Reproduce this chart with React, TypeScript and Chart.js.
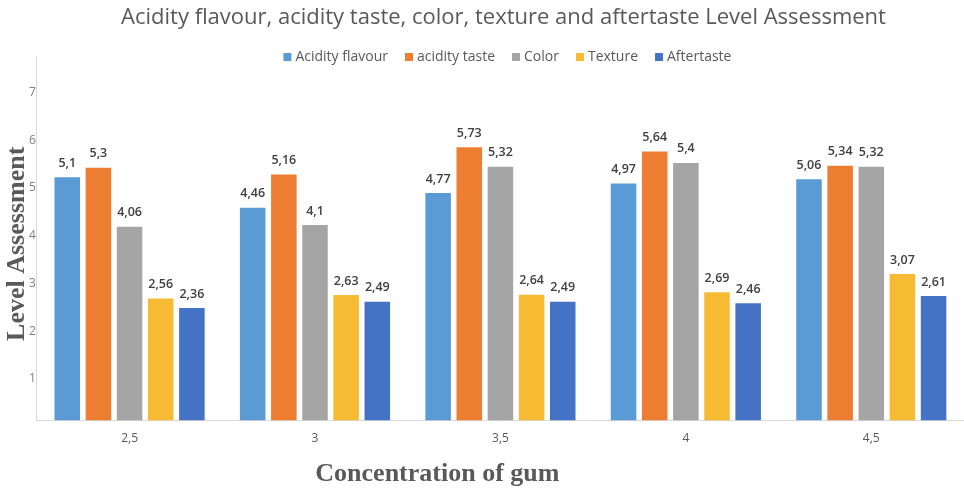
import React, { useEffect, useRef } from "react";
import { Chart, registerables } from "chart.js";

Chart.register(...registerables);

// Gum concentrations on the category axis
const categories = ["2,5", "3", "3,5", "4", "4,5"];

// Sensory scores per attribute
const seriesNames = ["Acidity flavour", "acidity taste", "Color", "Texture", "Aftertaste"];
const acidityFlavour = [5.1, 4.46, 4.77, 4.97, 5.06];
const acidityTaste = [5.3, 5.16, 5.73, 5.64, 5.34];
const colorScore = [4.06, 4.1, 5.32, 5.4, 5.32];
const texture = [2.56, 2.63, 2.64, 2.69, 3.07];
const aftertaste = [2.36, 2.49, 2.49, 2.46, 2.61];
const seriesColors = ["#5B9BD5", "#ED7D31", "#A5A5A5", "#F6BB33", "#4472C4"];

const yTicks = [1, 2, 3, 4, 5, 6, 7];

const chartTitle = "Acidity flavour, acidity taste, color, texture and aftertaste Level Assessment";
const yTitle = "Level Assessment";
const xTitle = "Concentration of gum";

const fmt = (v: number) => String(v).replace(".", ",");

// Value labels above each bar
const valueLabels = {
  id: "valueLabels",
  afterDatasetsDraw(chart: any) {
    const ctx = chart.ctx;
    ctx.save();
    ctx.font = "600 12.5px 'Open Sans', sans-serif";
    ctx.fillStyle = "#404040";
    ctx.textAlign = "center";
    ctx.textBaseline = "middle";
    chart.data.datasets.forEach((ds: any, i: number) => {
      const meta = chart.getDatasetMeta(i);
      meta.data.forEach((el: any, j: number) => {
        ctx.fillText(fmt(ds.data[j]), el.x, el.y - 14);
      });
    });
    ctx.restore();
  },
};

// Nudge the title so it centres over the plot area
const titleShift = {
  id: "titleShift",
  afterLayout(chart: any) {
    if (chart.titleBlock) chart.titleBlock.left += 10;
  },
};

// Compact legend row drawn across the top of the plot area
const topLegend = {
  id: "topLegend",
  afterDraw(chart: any) {
    const { ctx, chartArea } = chart;
    const box = 8;
    const boxGap = 4;
    const itemGap = 17;
    ctx.save();
    ctx.font = "14px 'Open Sans', sans-serif";
    ctx.textBaseline = "middle";
    ctx.textAlign = "left";
    const items = chart.data.datasets.map((ds: any) => ({
      text: ds.label,
      color: ds.backgroundColor,
      w: box + boxGap + ctx.measureText(ds.label).width,
    }));
    const total = items.reduce((s: number, it: any) => s + it.w, 0) + itemGap * (items.length - 1);
    let x = (chartArea.left + chartArea.right) / 2 + 7 - total / 2;
    const y = chartArea.top;
    items.forEach((it: any) => {
      ctx.fillStyle = it.color;
      ctx.fillRect(x, y - box / 2, box, box);
      ctx.fillStyle = "#595959";
      ctx.fillText(it.text, x + box + boxGap, y);
      x += it.w + itemGap;
    });
    ctx.restore();
  },
};

// Serif axis titles
const axisTitles = {
  id: "axisTitles",
  afterDraw(chart: any) {
    const { ctx, chartArea } = chart;
    ctx.save();
    ctx.fillStyle = "#595959";
    ctx.font = "bold 26px 'Liberation Serif', 'Times New Roman', serif";
    ctx.textAlign = "center";
    ctx.textBaseline = "middle";
    ctx.fillText(xTitle, chartArea.left + chartArea.width * 0.432, chart.height - 14);
    ctx.translate(17, (chartArea.top + chartArea.bottom) / 2 + 5);
    ctx.rotate(-Math.PI / 2);
    ctx.fillText(yTitle, 0, 0);
    ctx.restore();
  },
};

export default function App() {
  const canvasRef = useRef<HTMLCanvasElement | null>(null);

  useEffect(() => {
    if (!canvasRef.current) return;
    const seriesData = [acidityFlavour, acidityTaste, colorScore, texture, aftertaste];
    const chart = new Chart(canvasRef.current, {
      type: "bar",
      data: {
        labels: categories,
        datasets: seriesNames.map((name, i) => ({
          label: name,
          data: seriesData[i],
          backgroundColor: seriesColors[i],
          borderWidth: 0,
          categoryPercentage: 0.84,
          barPercentage: 0.82,
        })),
      },
      options: {
        responsive: false,
        animation: false,
        layout: { padding: { left: 28, right: -5, top: 0, bottom: 31 } },
        plugins: {
          title: {
            display: true,
            text: chartTitle,
            color: "#595959",
            font: { family: "'Open Sans', sans-serif", size: 22, weight: "normal" },
            padding: { top: 5, bottom: 25.6 },
          },
          legend: { display: false },
          tooltip: { enabled: false },
        },
        scales: {
          x: {
            grid: { display: false, drawTicks: false },
            border: { color: "#d9d9d9" },
            ticks: {
              color: "#595959",
              padding: 11,
              font: { family: "'Open Sans', sans-serif", size: 12 },
            },
          },
          y: {
            min: 0,
            max: 7.62,
            grid: { display: false, drawTicks: false },
            border: { color: "#d9d9d9" },
            afterBuildTicks: (axis: any) => {
              axis.ticks = yTicks.map((v) => ({ value: v }));
            },
            ticks: {
              color: "#7f7f7f",
              padding: 1,
              labelOffset: 6,
              font: { family: "'Open Sans', sans-serif", size: 12 },
            },
          },
        },
      },
      plugins: [titleShift, valueLabels, topLegend, axisTitles],
    });
    return () => chart.destroy();
  }, []);

  return (
    <div style={{ position: "fixed", left: 0, top: 0, width: 964, height: 488, background: "#fff" }}>
      <canvas ref={canvasRef} width={964} height={488} />
    </div>
  );
}
